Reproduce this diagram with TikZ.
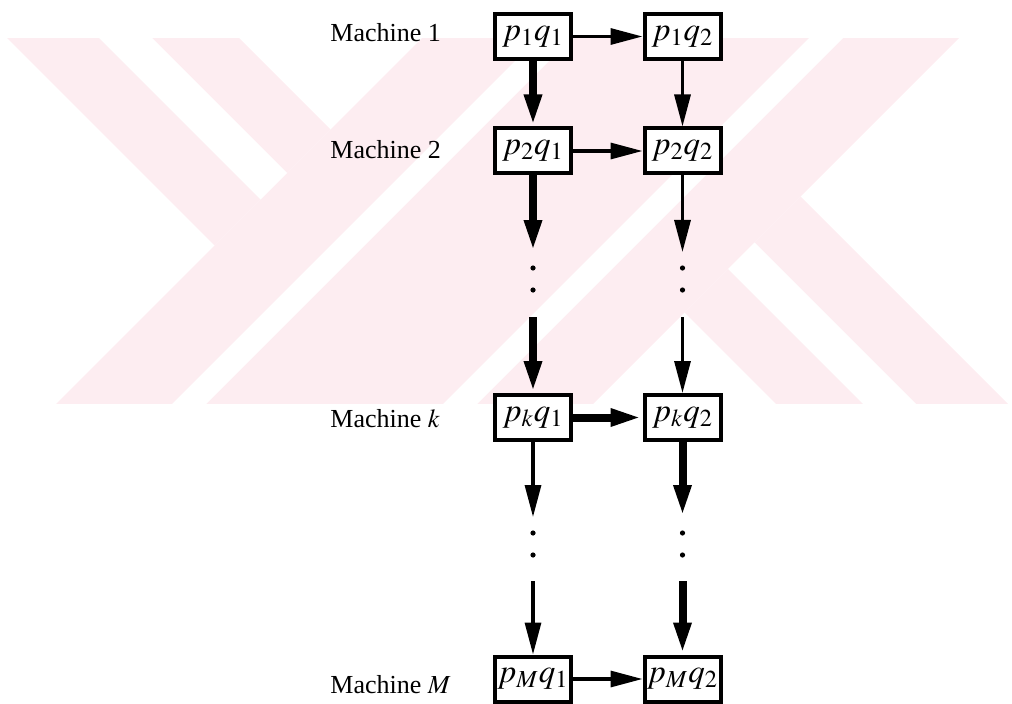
\documentclass[tikz,border=0pt]{standalone}
\usepackage{mathptmx}
\usepackage{fontspec}
\setmainfont{Liberation Serif}
\usetikzlibrary{arrows.meta}

\definecolor{wmpink}{RGB}{253,237,241}

% faint chevron pattern behind the chart
\newcommand{\chevrons}{
    \begin{scope}
        \clip (0,300) rectangle (1012,664);
        \fill[wmpink] (560,803) -- (1097,803) -- (497,203) -- (-40,203) -- cycle;
        \fill[wmpink] (-131,803) -- (101,803) -- (330.5,573.5) -- (214.5,457.5) -- cycle;
        \fill[wmpink] (1146,161) -- (914,161) -- (684.5,390.5) -- (800.5,506.5) -- cycle;
        \fill[white] (676,803) -- (710,803) -- (110,203) -- (76,203) -- cycle;
        \fill[white] (947,803) -- (981,803) -- (381,203) -- (347,203) -- cycle;
        \fill[white] (-39,803) -- (14,803) -- (287,530) -- (260.5,503.5) -- cycle;
        \fill[white] (1054,161) -- (1001,161) -- (728,434) -- (754.5,460.5) -- cycle;
    \end{scope}
}
\tikzset{x=0.5pt, y=0.5pt, every node/.append style={font=\fontsize{13}{15}\selectfont},
    box/.style={draw, line width=2pt, fill=white, minimum width=38pt, minimum height=22.5pt,
        inner sep=0pt, font=\fontsize{16.5}{18}\selectfont},
    machine/.style={anchor=base west, inner sep=0pt},
    flow/.style={-{Triangle[length=16pt,width=8pt]}, line width=1.6pt},
    heavy/.style={flow, line width=4pt}}

\begin{document}
\begin{tikzpicture}
    \useasboundingbox (0,0) rectangle (1012,703);
    \chevrons

    \node[machine] (m1) at (330,661) {Machine 1};
    \node[machine] (m2) at (330,545) {Machine 2};
    \node[machine] (mk) at (330,276) {Machine $k$};
    \node[machine] (mM) at (330,10) {Machine $M$};

    \node[box] (p1q1) at (533,666.5) {$p_1q_1$};
    \node[box] (p1q2) at (682.5,666.5) {$p_1q_2$};
    \node[box] (p2q1) at (533,552) {$p_2q_1$};
    \node[box] (p2q2) at (682.5,552) {$p_2q_2$};
    \node[box] (pkq1) at (533,285.5) {$p_kq_1$};
    \node[box] (pkq2) at (682.5,285.5) {$p_kq_2$};
    \node[box] (pMq1) at (533,24) {$p_Mq_1$};
    \node[box] (pMq2) at (682.5,24) {$p_Mq_2$};

    % ends of the broken arrows
    \coordinate (up1a) at (533,451);   \coordinate (up1b) at (533,386);
    \coordinate (up2a) at (682.5,451); \coordinate (up2b) at (682.5,386);
    \coordinate (lo1a) at (533,186);   \coordinate (lo1b) at (533,122);
    \coordinate (lo2a) at (682.5,186); \coordinate (lo2b) at (682.5,122);
    \foreach \x in {533,682.5}
        \foreach \y in {435,413,170,148}
            \fill (\x,\y) circle (1.3pt);

    \draw[flow]  (p1q1) -- (p1q2);
    \draw[flow]  (p2q1) -- (p2q2);
    \draw[heavy] (pkq1) -- (pkq2);
    \draw[flow]  (pMq1) -- (pMq2);

    \draw[heavy] (p1q1) -- (p2q1);
    \draw[heavy] (p2q1) -- (up1a);
    \draw[heavy] (up1b) -- (pkq1);
    \draw[flow]  (pkq1) -- (lo1a);
    \draw[flow]  (lo1b) -- (pMq1);

    \draw[flow]  (p1q2) -- (p2q2);
    \draw[flow]  (p2q2) -- (up2a);
    \draw[flow]  (up2b) -- (pkq2);
    \draw[heavy] (pkq2) -- (lo2a);
    \draw[heavy] (lo2b) -- (pMq2);
\end{tikzpicture}
\end{document}
